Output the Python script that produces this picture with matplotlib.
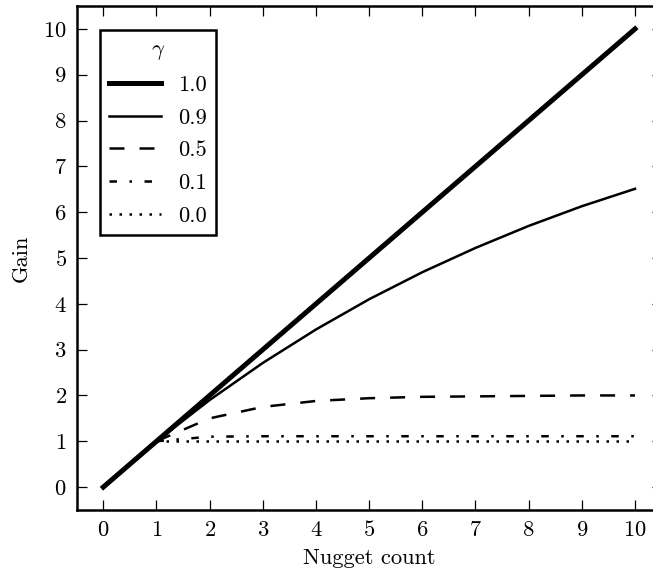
import matplotlib
matplotlib.use("Agg")
import matplotlib.pyplot as plt

# Computer Modern look, like a LaTeX figure
plt.rcParams['font.family'] = 'serif'
plt.rcParams['font.serif'] = ['cmr10']
plt.rcParams['mathtext.fontset'] = 'cm'
plt.rcParams['axes.formatter.use_mathtext'] = True
plt.rcParams['font.size'] = 9
plt.rcParams['lines.scale_dashes'] = False
plt.rcParams['lines.dashed_pattern'] = [6, 6]
plt.rcParams['lines.dashdot_pattern'] = [3, 5, 1, 5]
plt.rcParams['lines.dotted_pattern'] = [1, 3]

# data
n_full = [0, 1, 2, 3, 4, 5, 6, 7, 8, 9, 10]
n_part = [1, 2, 3, 4, 5, 6, 7, 8, 9, 10]
gain_10 = [0, 1, 2, 3, 4, 5, 6, 7, 8, 9, 10]
gain_09 = [1, 1.9, 2.71, 3.44, 4.1, 4.69, 5.22, 5.7, 6.13, 6.51]
gain_05 = [1, 1.5, 1.75, 1.88, 1.94, 1.97, 1.98, 1.99, 2.0, 2.0]
gain_01 = [1, 1.1, 1.11, 1.11, 1.11, 1.11, 1.11, 1.11, 1.11, 1.11]
gain_00 = [1, 1, 1, 1, 1, 1, 1, 1, 1, 1]

W, H, DPI = 653, 574, 180
fig = plt.figure(figsize=(W / DPI, H / DPI), dpi=DPI)

# axes placed in pixels; right spine falls just outside the image
left, right, top, bottom = 76.7, 661.6, 6.0, 510.0
ax = fig.add_axes([left / W, 1 - bottom / H, (right - left) / W, (bottom - top) / H])

ax.plot(n_full, gain_10, color='k', lw=2.0, ls='-', label='1.0')
ax.plot(n_part, gain_09, color='k', lw=1.0, ls='-', label='0.9')
ax.plot(n_part, gain_05, color='k', lw=1.0, ls='--', label='0.5')
ax.plot(n_part, gain_01, color='k', lw=1.0, ls='-.', label='0.1')
ax.plot(n_part, gain_00, color='k', lw=1.0, ls=':', label='0.0')

ax.set_xlim(-0.5, 10.5)
ax.set_ylim(-0.5, 10.5)
ax.set_xticks(range(0, 11))
ax.set_yticks(range(0, 11))
ax.tick_params(direction='in', top=True, right=True, length=4, width=0.5, pad=4)
for s in ax.spines.values():
    s.set_linewidth(1.0)

ax.set_xlabel('Nugget count', labelpad=3.5)
ax.set_ylabel('Gain', labelpad=5)

leg_x = (100 - left) / (right - left)
leg_y = (bottom - 30) / (bottom - top)
leg = ax.legend(title=r'$\gamma$', loc='upper left', bbox_to_anchor=(leg_x, leg_y),
                borderaxespad=0, fancybox=False, framealpha=1, edgecolor='k',
                handlelength=2.3, handletextpad=0.75, labelspacing=0.58, borderpad=0.42)
leg.get_frame().set_linewidth(1.0)

fig.savefig('out.png', dpi=DPI)
